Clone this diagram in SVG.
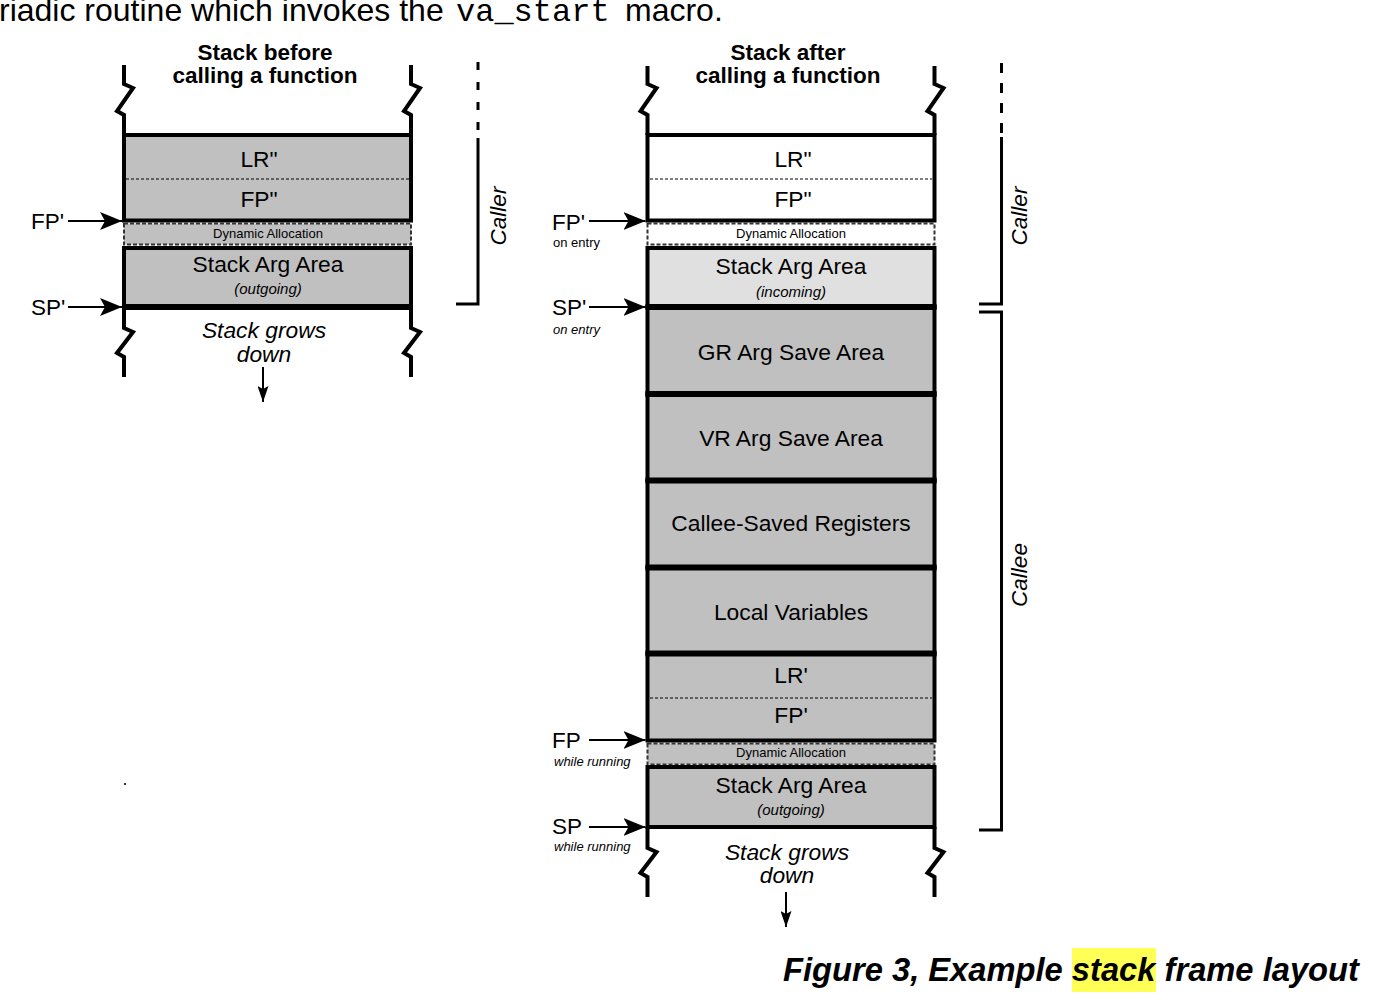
<svg xmlns="http://www.w3.org/2000/svg" width="1398" height="1004" viewBox="0 0 1398 1004">
<style>
text{font-family:"Liberation Sans",Arial,sans-serif;fill:#000}
.lbl{font-size:22.8px;text-anchor:middle}
.sub{font-size:15px;font-style:italic;text-anchor:middle}
.dyn{font-size:13px;text-anchor:middle}
.hdr{font-size:22.5px;font-weight:bold;text-anchor:middle}
.ptr{font-size:22.5px}
.note{font-size:13px}
.ital{font-style:italic}
.blk{stroke:#000;stroke-width:4}
.gray{fill:#c0c0c0}
.white{fill:#fff}
.light{fill:#e0e0e0}
.dash{stroke:#333;stroke-width:2;stroke-dasharray:4 2}
.dot{stroke:#000;stroke-width:1;stroke-dasharray:3 2}
.sep{stroke:#000;stroke-width:6}
.col{fill:none;stroke:#000;stroke-width:4;stroke-linejoin:miter}
.brk{fill:none;stroke:#000;stroke-width:3}
.arr{stroke:#000;stroke-width:2;fill:none}
</style>
<defs>
<marker id="ah" viewBox="0 0 22 18" refX="22" refY="9" markerWidth="22" markerHeight="18" markerUnits="userSpaceOnUse" orient="auto">
<path d="M0,0 L22,9 L0,18 L5,9 Z" fill="#000"/>
</marker>
<marker id="ahs" viewBox="0 0 16 11" refX="16" refY="5.5" markerWidth="16" markerHeight="11" markerUnits="userSpaceOnUse" orient="auto">
<path d="M0,0 L16,5.5 L0,11 L3,5.5 Z" fill="#000"/>
</marker>
</defs>
<rect width="1398" height="1004" fill="#fff"/>

<g id="intro-text">
<text y="21" font-size="32"><tspan x="-1">riadic routine which invokes the</tspan><tspan x="456" font-family="'Liberation Mono','Courier New',monospace">va_start</tspan><tspan x="625">macro.</tspan></text>
</g>

<!-- LEFT STACK -->
<g id="left-title">
<text class="hdr" x="265" y="60">Stack before</text>
<text class="hdr" x="265" y="83">calling a function</text>
</g>
<g id="left-frame">
<path class="col" d="M124,65 V84 L133,88 L117,111 L124,115 V135"/>
<path class="col" d="M411,65 V84 L420,88 L404,111 L411,115 V135"/>
<path class="col" d="M124,307 V328 L133,332 L117,353 L124,357 V377"/>
<path class="col" d="M411,307 V328 L420,332 L404,353 L411,357 V377"/>
</g>
<g id="left-lr-fp">
<rect class="blk gray" x="124" y="135" width="287" height="85.5"/>
<line class="dot" x1="126" y1="179" x2="409" y2="179"/>
<text class="lbl" x="259" y="167">LR"</text>
<text class="lbl" x="259" y="207">FP"</text>
</g>
<g id="left-dyn">
<rect class="gray dash" x="124" y="223.5" width="287" height="21"/>
<text class="dyn" x="268" y="238">Dynamic Allocation</text>
</g>
<g id="left-stackarg">
<rect class="blk gray" x="124" y="248" width="287" height="59"/>
<line class="sep" x1="122" y1="307" x2="413" y2="307"/>
<text class="lbl" x="268" y="272">Stack Arg Area</text>
<text class="sub" x="268" y="294">(outgoing)</text>
</g>
<g id="left-grows">
<text class="lbl ital" x="264" y="338">Stack grows</text>
<text class="lbl ital" x="264" y="362">down</text>
</g>
<g id="left-caller">
<line class="brk" x1="478" y1="62" x2="478" y2="135" stroke-dasharray="8 12"/>
<path class="brk" d="M478,138 V304 H456"/>
<text class="ptr ital" text-anchor="middle" transform="translate(506,216) rotate(-90)">Caller</text>
</g>
<g id="left-pointers">
<text class="ptr" x="31" y="229">FP'</text>
<text class="ptr" x="31" y="315">SP'</text>
</g>

<!-- RIGHT STACK -->
<g id="right-title">
<text class="hdr" x="788" y="60">Stack after</text>
<text class="hdr" x="788" y="83">calling a function</text>
</g>
<g id="right-frame">
<path class="col" d="M647.5,66 V84 L656.5,88 L640.5,111 L647.5,115 V135"/>
<path class="col" d="M934.5,66 V84 L943.5,88 L927.5,111 L934.5,115 V135"/>
<path class="col" d="M647.5,827 V848 L656.5,852 L640.5,873 L647.5,877 V897"/>
<path class="col" d="M934.5,827 V848 L943.5,852 L927.5,873 L934.5,877 V897"/>
</g>
<g id="right-lr-fp">
<rect class="blk white" x="647.5" y="135" width="287" height="85.5"/>
<line class="dot" x1="650" y1="179" x2="932" y2="179"/>
<text class="lbl" x="793" y="167">LR"</text>
<text class="lbl" x="793" y="207">FP"</text>
</g>
<g id="right-dyn-top">
<rect class="white dash" x="647.5" y="223.5" width="287" height="21"/>
<text class="dyn" x="791" y="238">Dynamic Allocation</text>
</g>
<g id="right-stackarg-in">
<rect class="blk light" x="647.5" y="248" width="287" height="59"/>
<text class="lbl" x="791" y="274">Stack Arg Area</text>
<text class="sub" x="791" y="297">(incoming)</text>
</g>
<g id="right-gr">
<rect class="blk gray" x="647.5" y="307" width="287" height="87"/>
<line class="sep" x1="645.5" y1="307" x2="936.5" y2="307"/>
<text class="lbl" x="791" y="360">GR Arg Save Area</text>
</g>
<g id="right-vr">
<rect class="blk gray" x="647.5" y="394" width="287" height="86.5"/>
<line class="sep" x1="645.5" y1="394" x2="936.5" y2="394"/>
<text class="lbl" x="791" y="446">VR Arg Save Area</text>
</g>
<g id="right-callee-saved">
<rect class="blk gray" x="647.5" y="480.5" width="287" height="87"/>
<line class="sep" x1="645.5" y1="480.5" x2="936.5" y2="480.5"/>
<text class="lbl" x="791" y="531">Callee-Saved Registers</text>
</g>
<g id="right-locals">
<rect class="blk gray" x="647.5" y="567.5" width="287" height="86"/>
<line class="sep" x1="645.5" y1="567.5" x2="936.5" y2="567.5"/>
<text class="lbl" x="791" y="620">Local Variables</text>
</g>
<g id="right-lr-fp-prime">
<rect class="blk gray" x="647.5" y="653.5" width="287" height="87"/>
<line class="sep" x1="645.5" y1="653.5" x2="936.5" y2="653.5"/>
<line class="dot" x1="650" y1="698" x2="932" y2="698"/>
<text class="lbl" x="791" y="683">LR'</text>
<text class="lbl" x="791" y="723">FP'</text>
</g>
<g id="right-dyn-bottom">
<rect class="gray dash" x="647.5" y="743.5" width="287" height="21"/>
<text class="dyn" x="791" y="757">Dynamic Allocation</text>
</g>
<g id="right-stackarg-out">
<rect class="blk gray" x="647.5" y="767" width="287" height="60"/>
<text class="lbl" x="791" y="793">Stack Arg Area</text>
<text class="sub" x="791" y="815">(outgoing)</text>
</g>
<g id="right-grows">
<text class="lbl ital" x="787" y="860">Stack grows</text>
<text class="lbl ital" x="787" y="883">down</text>
</g>
<g id="right-caller">
<line class="brk" x1="1001.5" y1="63" x2="1001.5" y2="135" stroke-dasharray="10 10"/>
<path class="brk" d="M1001.5,137 V304 H979"/>
<text class="ptr ital" text-anchor="middle" transform="translate(1027,216) rotate(-90)">Caller</text>
</g>
<g id="right-callee">
<path class="brk" d="M979,312 H1001.5 V830 H979"/>
<text class="ptr ital" text-anchor="middle" transform="translate(1027,575) rotate(-90)">Callee</text>
</g>
<g id="right-pointers">
<text class="ptr" x="552" y="230">FP'</text>
<text class="note" x="553" y="247">on entry</text>
<text class="ptr" x="552" y="315">SP'</text>
<text class="note ital" x="553" y="334">on entry</text>
<text class="ptr" x="552" y="748">FP</text>
<text class="note ital" x="554" y="766">while running</text>
<text class="ptr" x="552" y="834">SP</text>
<text class="note ital" x="554" y="851">while running</text>
</g>

<g id="connectors">
<line class="arr" x1="68" y1="221" x2="122" y2="221" marker-end="url(#ah)"/>
<line class="arr" x1="68" y1="307" x2="122" y2="307" marker-end="url(#ah)"/>
<line class="arr" x1="589" y1="221" x2="645.5" y2="221" marker-end="url(#ah)"/>
<line class="arr" x1="589" y1="307" x2="645.5" y2="307" marker-end="url(#ah)"/>
<line class="arr" x1="589" y1="740" x2="645.5" y2="740" marker-end="url(#ah)"/>
<line class="arr" x1="589" y1="827" x2="645.5" y2="827" marker-end="url(#ah)"/>
<line class="arr" x1="263" y1="367" x2="263" y2="402" marker-end="url(#ahs)"/>
<line class="arr" x1="786" y1="892" x2="786" y2="927" marker-end="url(#ahs)"/>
</g>

<g id="stray-mark">
<rect x="124" y="783" width="2" height="2" fill="#333"/>
</g>

<g id="caption">
<rect x="1072" y="948" width="84" height="44" fill="#ffff55"/>
<text x="783" y="981" font-size="32.7" font-weight="bold" font-style="italic">Figure 3, Example stack frame layout</text>
</g>
</svg>
